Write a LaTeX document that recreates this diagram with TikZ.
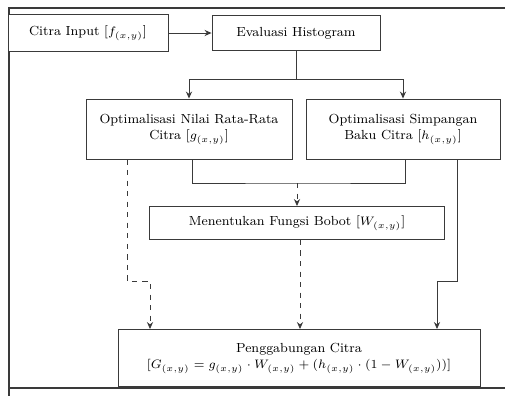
\documentclass[tikz,border=0pt]{standalone}
\usepackage{tikz}
\usetikzlibrary{arrows.meta, positioning, calc}
\definecolor{inkgray}{HTML}{3A3A3A}
\tikzset{
  % Process boxes
  procbox/.style={
    rectangle, draw=inkgray, fill=white, text=black,
    font=\fontsize{7.5}{9.5}\selectfont, align=center,
    line width=0.5pt, inner sep=2pt,
  },
  % Arrows
  flowarrow/.style={-{Stealth[length=4pt, width=3.5pt]}, line width=0.5pt, draw=inkgray, #1},
  flowarrow/.default={solid},
  flowline/.style={line width=0.5pt, draw=inkgray},
  % Frame
  pageframe/.style={line width=0.9pt, draw=inkgray},
}
\begin{document}
\begin{tikzpicture}[x=0.02cm, y=-0.02cm]
  \useasboundingbox (0,0) rectangle (505,396);

  % Outer frame
  \draw[pageframe] (9,396) -- (9,8) -- (505,8);
  \draw[pageframe] (9,388) -- (505,388);

  % Top row
  \node[procbox, minimum width=3.2cm, minimum height=0.74cm] (input) at (88,33)
    {Citra Input [$f_{(x,y)}$]};
  \node[procbox, minimum width=3.36cm, minimum height=0.7cm] (eval) at (296,33)
    {Evaluasi Histogram};

  % Optimisation boxes
  \node[procbox, minimum width=4.12cm, minimum height=1.2cm] (mean) at (189,129)
    {Optimalisasi Nilai Rata-Rata\\Citra [$g_{(x,y)}$]};
  \node[procbox, minimum width=3.88cm, minimum height=1.2cm] (std) at (403,129)
    {Optimalisasi Simpangan\\Baku Citra [$h_{(x,y)}$]};

  % Weight function
  \node[procbox, minimum width=5.9cm, minimum height=0.66cm] (weight) at (297,223)
    {Menentukan Fungsi Bobot [$W_{(x,y)}$]};

  % Merge
  \node[procbox, minimum width=7.24cm, minimum height=1.14cm] (merge) at (299,358)
    {Penggabungan Citra\\{\fontsize{7}{9}\selectfont[$G_{(x,y)} = g_{(x,y)} \cdot W_{(x,y)} + (h_{(x,y)} \cdot (1 - W_{(x,y)}))$]}};

  % Junction points
  \coordinate (split) at (296,79);
  \coordinate (join) at (297,183);
  \coordinate (lstep) at (127,281);
  \coordinate (rstep) at (457,281);

  % Connectors
  \draw[flowarrow] (input.east) -- (eval.west);
  \draw[flowline] (eval.south) -- (split);
  \draw[flowline] (mean.north |- split) -- (std.north |- split);
  \draw[flowarrow] (mean.north |- split) -- (mean.north);
  \draw[flowarrow] (std.north |- split) -- (std.north);

  \draw[flowline] ($(mean.south)+(3,0)$) |- (join) -| ($(std.south)+(2,0)$);
  \draw[flowarrow=dashed] (join) -- (weight.north);
  \draw[flowarrow=dashed] ($(weight.south)+(3,0)$) -- ($(merge.north)+(1,0)$);

  \draw[flowarrow=dashed] (mean.south -| lstep) -- (lstep) -- ++(23,0) -- (merge.north -| 150,0);
  \draw[flowarrow] (std.south -| rstep) -- (rstep) -- ++(-20,0) -- (merge.north -| 437,0);

\end{tikzpicture}
\end{document}
